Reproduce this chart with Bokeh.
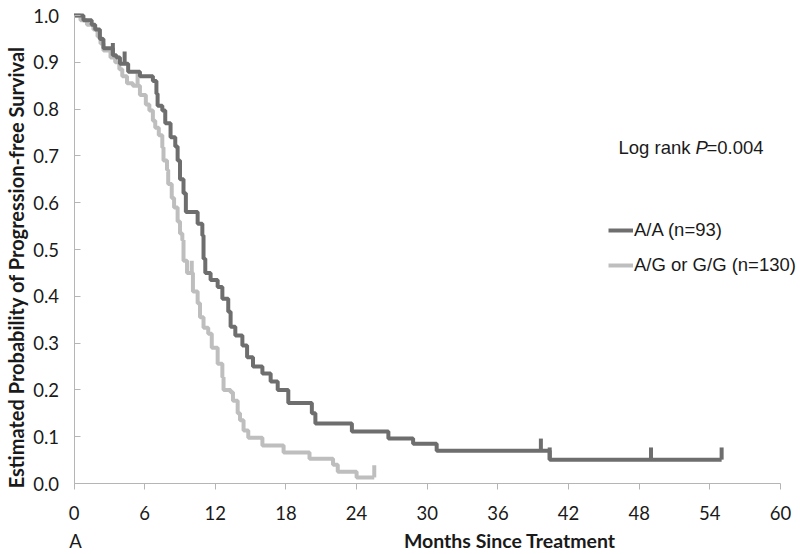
import numpy as np
from bokeh.plotting import figure
from bokeh.models import Range1d, FixedTicker, Label, Legend, LegendItem, PrintfTickFormatter, ColumnDataSource
from bokeh.embed import file_html
from bokeh.resources import INLINE

# ---- data ----
dark_t = [0, 0.8, 1.5, 1.8, 2.2, 2.5, 3.3, 3.6, 3.9, 4.6,
          5.6, 6.7, 7.0, 7.1, 7.5, 7.75, 8.2, 8.6, 8.8, 9.0,
          9.3, 9.5, 10.5, 10.9, 11.0, 11.15, 11.6, 12.2, 12.6, 13.1,
          13.3, 13.7, 14.3, 14.7, 15.2, 16.0, 16.7, 17.3, 18.2, 20.2,
          20.5, 23.6, 26.7, 28.8, 30.8, 40.4, 55.0]
dark_s = [1.0, 0.99, 0.98, 0.97, 0.95, 0.93, 0.915, 0.91, 0.897, 0.88,
          0.87, 0.86, 0.833, 0.807, 0.797, 0.77, 0.74, 0.72, 0.69, 0.65,
          0.62, 0.58, 0.555, 0.53, 0.48, 0.45, 0.435, 0.42, 0.395, 0.367,
          0.335, 0.316, 0.295, 0.27, 0.25, 0.235, 0.218, 0.2, 0.172, 0.15,
          0.128, 0.111, 0.096, 0.085, 0.07, 0.051, 0.051]
dark_cens = [3.3, 4.3, 39.65, 40.4, 49.0, 55.0]

light_t = [0, 0.55, 1.1, 1.65, 2.0, 2.25, 2.5, 3.1, 3.5, 3.85,
           4.1, 4.5, 5.0, 5.6, 6.1, 6.4, 6.7, 6.9, 7.2, 7.5,
           7.6, 7.9, 8.0, 8.3, 8.5, 8.8, 9.0, 9.2, 9.3, 9.6,
           10.1, 10.5, 10.7, 11.0, 11.4, 11.7, 12.2, 12.6, 12.7, 13.3,
           13.5, 13.9, 14.1, 14.4, 14.8, 16.0, 17.8, 20.0, 22.0, 22.4,
           24.0, 25.5]
light_s = [1.0, 0.99, 0.98, 0.97, 0.955, 0.94, 0.925, 0.91, 0.90, 0.885,
           0.87, 0.855, 0.85, 0.83, 0.81, 0.797, 0.775, 0.76, 0.744, 0.718,
           0.69, 0.67, 0.64, 0.61, 0.59, 0.56, 0.534, 0.52, 0.476, 0.45,
           0.41, 0.385, 0.355, 0.333, 0.32, 0.29, 0.256, 0.227, 0.2, 0.195,
           0.177, 0.15, 0.135, 0.113, 0.098, 0.081, 0.066, 0.053, 0.04, 0.025,
           0.013, 0.013]
light_cens = [5.4, 10.0, 25.5]

x_ticks = [0, 6, 12, 18, 24, 30, 36, 42, 48, 54, 60]
y_ticks = [0.0, 0.1, 0.2, 0.3, 0.4, 0.5, 0.6, 0.7, 0.8, 0.9, 1.0]

dark_label = "A/A (n=93)"
light_label = "A/G or G/G (n=130)"
x_title = "Months  Since  Treatment"
y_title = "Estimated  Probability  of  Progression-free  Survival"
panel_tag = "A"

DARK = "#6e6e6e"
LIGHT = "#bebebe"
TICK_FONT = "Lato"
ARIAL = "Liberation Sans"
TXT = "#1a1a1a"

# ---- layout: the frame covers the whole canvas; axes are pinned at 0 ----
W, H = 800, 552
X0_PX, X60_PX = 73.5, 780.0      # pixel of x=0 and x=60
Y1_PX, Y0_PX = 15.0, 483.0       # pixel of y=1 and y=0
kx = (X60_PX - X0_PX) / 60.0
ky = (Y0_PX - Y1_PX) / 1.0
x_lo, x_hi = -X0_PX / kx, 60 + (W - X60_PX) / kx
y_lo, y_hi = -(H - Y0_PX) / ky, 1 + Y1_PX / ky


def sy(page_y):
    return H - page_y


def censor_marks(t, s, c):
    t = np.asarray(t)
    s = np.asarray(s)
    c = np.asarray(c)
    idx = np.searchsorted(t, c, side="right") - 1
    y0 = s[idx]
    return dict(x=c, y0=y0, y1=y0 + 0.026)


p = figure(width=W, height=H, output_backend="svg", toolbar_location=None,
           x_range=Range1d(x_lo, x_hi), y_range=Range1d(y_lo, y_hi),
           min_border=0, min_border_left=0, min_border_right=0,
           min_border_top=0, min_border_bottom=0)
p.outline_line_color = None
p.grid.visible = False
p.background_fill_color = "white"
p.border_fill_color = "white"

light_src = ColumnDataSource(dict(t=light_t, s=light_s))
dark_src = ColumnDataSource(dict(t=dark_t, s=dark_s))

r_light = p.step(x="t", y="s", source=light_src, mode="after", line_color=LIGHT, line_width=4)
lc = censor_marks(light_t, light_s, light_cens)
p.segment(x0=lc["x"], y0=lc["y0"], x1=lc["x"], y1=lc["y1"], line_color=LIGHT, line_width=4)

r_dark = p.step(x="t", y="s", source=dark_src, mode="after", line_color=DARK, line_width=4)
dc = censor_marks(dark_t, dark_s, dark_cens)
p.segment(x0=dc["x"], y0=dc["y0"], x1=dc["x"], y1=dc["y1"], line_color=DARK, line_width=4)

# axes
xa = p.xaxis[0]
xa.fixed_location = 0
xa.bounds = (0, 60)
xa.ticker = FixedTicker(ticks=x_ticks)
xa.major_tick_in = 0
xa.major_tick_out = 6
xa.minor_tick_line_color = None
xa.axis_line_color = "#b5b5b5"
xa.major_tick_line_color = "#b5b5b5"
xa.major_label_text_font = TICK_FONT
xa.major_label_text_font_size = "18.5px"
xa.major_label_text_color = TXT
xa.major_label_standoff = 16

ya = p.yaxis[0]
ya.fixed_location = 0
ya.bounds = (0, 1)
ya.ticker = FixedTicker(ticks=y_ticks)
ya.formatter = PrintfTickFormatter(format="%.1f")
ya.major_tick_in = 6
ya.major_tick_out = 0
ya.minor_tick_line_color = None
ya.axis_line_color = "#b5b5b5"
ya.major_tick_line_color = "#b5b5b5"
ya.major_label_text_font = TICK_FONT
ya.major_label_text_font_size = "18.5px"
ya.major_label_text_color = TXT
ya.major_label_standoff = 15

# titles (screen units: frame == canvas, y from bottom)
p.add_layout(Label(x=15, y=sy(257), x_units="screen", y_units="screen", text=y_title, angle=np.pi / 2,
                   text_align="center", text_baseline="middle", text_font=TICK_FONT,
                   text_font_style="bold", text_font_size="20px", text_color=TXT))
p.add_layout(Label(x=514, y=sy(540), x_units="screen", y_units="screen", text=x_title,
                   text_align="center", text_baseline="middle", text_font=TICK_FONT,
                   text_font_style="bold", text_font_size="19.5px", text_color=TXT))
p.add_layout(Label(x=75, y=sy(540), x_units="screen", y_units="screen", text=panel_tag,
                   text_align="center", text_baseline="middle", text_font=TICK_FONT,
                   text_font_size="18.5px", text_color=TXT))

# Log rank annotation
p.add_layout(Label(x=618, y=sy(147), x_units="screen", y_units="screen", text="Log rank",
                   text_align="left", text_baseline="alphabetic", text_font=ARIAL,
                   text_font_size="18.5px", text_color=TXT))
p.add_layout(Label(x=695, y=sy(147), x_units="screen", y_units="screen", text="P",
                   text_align="left", text_baseline="alphabetic", text_font=ARIAL,
                   text_font_style="italic", text_font_size="18.5px", text_color=TXT))
p.add_layout(Label(x=706, y=sy(147), x_units="screen", y_units="screen", text="=0.004",
                   text_align="left", text_baseline="alphabetic", text_font=ARIAL,
                   text_font_size="18.5px", text_color=TXT))

legend = Legend(items=[LegendItem(label=dark_label, renderers=[r_dark]),
                       LegendItem(label=light_label, renderers=[r_light])],
                location=(608, sy(276)), padding=0, margin=0, spacing=13,
                glyph_width=25, glyph_height=20, label_height=20, label_standoff=1,
                border_line_alpha=0, background_fill_alpha=0,
                label_text_font=ARIAL, label_text_font_size="18.5px", label_text_color=TXT)
p.add_layout(legend, "center")

open("out.html", "w").write(file_html(p, INLINE))
